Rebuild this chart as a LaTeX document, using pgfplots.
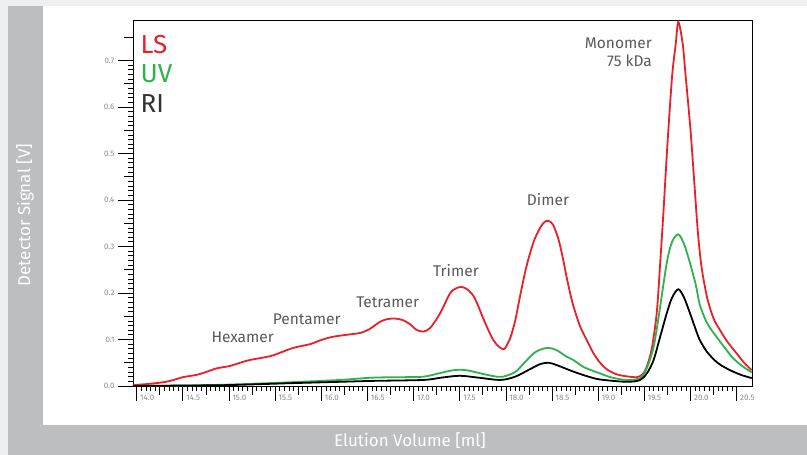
\documentclass[border=0pt]{standalone}
\usepackage{pgfplots}
\pgfplotsset{compat=1.18}
\usepackage{fontspec}
\setmainfont{Fira Sans}
\definecolor{lsred}{HTML}{E8202A}
\definecolor{uvgreen}{HTML}{2EB24B}
\definecolor{bandgray}{HTML}{BCBEC0}
\definecolor{pagegray}{HTML}{EFF0F2}
\definecolor{labelgray}{HTML}{5A5A5A}
\definecolor{tickgray}{HTML}{8C8C8C}
\begin{document}
\begin{tikzpicture}[x=1pt,y=1pt]
% panel and bands
\fill[pagegray] (0,0) rectangle (807,455);
\fill[bandgray] (8,0) rectangle (807,449);
\fill[white] (43,30) rectangle (807,449);
\node[white, rotate=90] at (25,240) {\fontsize{17}{19}\selectfont Detector Signal [V]};
\node[white] at (410,14) {\fontsize{17}{19}\selectfont Elution Volume [ml]};
\begin{axis}[
    at={(133pt,69pt)}, anchor=south west,
    scale only axis, width=619pt, height=366pt,
    xmin=13.96, xmax=20.666, ymin=0, ymax=0.787,
    axis line style={black, line width=0.9pt},
    xtick={14,14.5,...,20.5}, ytick={0,0.1,...,0.7},
    minor x tick num=9, minor y tick num=9,
    extra x ticks={14.25,14.75,...,20.25}, extra x tick labels={},
    extra y ticks={0.05,0.15,...,0.75}, extra y tick labels={},
    extra x tick style={major tick length=9pt},
    extra y tick style={major tick length=9pt},
    tick align=outside, xtick pos=bottom, ytick pos=left,
    major tick length=15pt, minor tick length=5pt,
    every tick/.style={black, line width=0.7pt},
    /pgf/number format/assume math mode=true,
    x tick label style={font=\fontsize{8}{9}\selectfont, text=tickgray, anchor=north west, xshift=0pt, yshift=9pt,
        /pgf/number format/.cd, fixed, fixed zerofill, precision=1},
    y tick label style={font=\fontsize{8}{9}\selectfont, text=tickgray,
        /pgf/number format/.cd, fixed, fixed zerofill, precision=1},
    clip=false,
]
\addplot[lsred, line width=1.8pt, smooth, tension=0.5] coordinates {
(13.96,0.002) (14.1,0.004) (14.285,0.008) (14.4,0.013) (14.5,0.019) (14.65,0.024) (14.75,0.030)
(14.867,0.038) (15.01,0.043) (15.12,0.050) (15.228,0.056) (15.444,0.064) (15.56,0.072) (15.697,0.082)
(15.878,0.090) (16.0,0.099) (16.13,0.106) (16.311,0.111) (16.42,0.114) (16.52,0.122) (16.636,0.138)
(16.72,0.144) (16.798,0.145) (16.88,0.142) (16.96,0.133) (17.03,0.121) (17.105,0.117) (17.18,0.125)
(17.286,0.156) (17.394,0.199) (17.46,0.210) (17.52,0.213) (17.58,0.208) (17.647,0.194) (17.70,0.172)
(17.755,0.145) (17.81,0.120) (17.863,0.099) (17.92,0.085) (17.972,0.079) (18.00,0.084) (18.05,0.105)
(18.10,0.140) (18.15,0.190) (18.22,0.255) (18.30,0.310) (18.37,0.340) (18.42,0.353) (18.46,0.355)
(18.51,0.347) (18.57,0.315) (18.62,0.272) (18.66,0.232) (18.72,0.180) (18.80,0.130) (18.875,0.099)
(18.95,0.070) (19.02,0.050) (19.1,0.035) (19.2,0.025) (19.3,0.021) (19.417,0.019) (19.48,0.025)
(19.525,0.041) (19.58,0.080) (19.634,0.157) (19.67,0.26) (19.706,0.372) (19.75,0.52) (19.80,0.665)
(19.84,0.736) (19.868,0.783) (19.915,0.736) (19.948,0.665) (20.0,0.55) (20.04,0.44) (20.08,0.33)
(20.12,0.255) (20.18,0.19) (20.25,0.145) (20.32,0.120) (20.4,0.095) (20.5,0.070) (20.58,0.050)
(20.663,0.034)
};
\addplot[uvgreen, line width=1.8pt, smooth, tension=0.5] coordinates {
(13.96,0.0) (14.5,0.001) (15.0,0.003) (15.66,0.008) (16.2,0.013) (16.56,0.018) (16.9,0.019)
(17.105,0.020) (17.25,0.026) (17.4,0.033) (17.5,0.035) (17.6,0.033) (17.75,0.026) (17.9,0.020)
(17.97,0.020) (18.1,0.030) (18.2,0.050) (18.3,0.070) (18.37,0.078) (18.46,0.082) (18.55,0.077)
(18.65,0.064) (18.73,0.056) (18.85,0.040) (19.02,0.027) (19.15,0.018) (19.31,0.013) (19.455,0.017)
(19.53,0.040) (19.60,0.084) (19.66,0.156) (19.742,0.264) (19.80,0.31) (19.868,0.326) (19.93,0.305)
(19.995,0.264) (20.06,0.215) (20.10,0.175) (20.18,0.135) (20.28,0.106) (20.38,0.08) (20.46,0.060)
(20.56,0.043) (20.663,0.029)
};
\addplot[black, line width=1.8pt, smooth, tension=0.5] coordinates {
(13.96,0.0) (14.5,0.001) (15.0,0.002) (15.66,0.006) (16.2,0.009) (16.56,0.011) (17.105,0.013)
(17.3,0.018) (17.5,0.022) (17.7,0.018) (17.94,0.013) (18.1,0.020) (18.25,0.035) (18.37,0.047)
(18.46,0.050) (18.55,0.045) (18.73,0.031) (18.88,0.021) (19.02,0.014) (19.31,0.009) (19.455,0.013)
(19.53,0.028) (19.60,0.056) (19.67,0.105) (19.742,0.156) (19.80,0.19) (19.868,0.208) (19.93,0.19)
(19.995,0.156) (20.05,0.125) (20.10,0.099) (20.18,0.073) (20.28,0.052) (20.37,0.040) (20.46,0.031)
(20.56,0.023) (20.663,0.017)
};
% peak names
\begin{scope}[every node/.style={text=labelgray, font=\fontsize{15.5}{18}\selectfont}]
\node at (axis cs:15.149,0.105) {Hexamer};
\node at (axis cs:15.842,0.143) {Pentamer};
\node at (axis cs:16.719,0.180) {Tetramer};
\node at (axis cs:17.459,0.249) {Trimer};
\node at (axis cs:18.456,0.400) {Dimer};
\node[anchor=east, align=right, inner sep=0pt] at (axis cs:19.583,0.717) {Monomer\\75 kDa};
\end{scope}
% legend
\begin{scope}[every node/.style={anchor=west, inner sep=0pt, font=\fontsize{26}{28}\selectfont}]
\node[text=lsred] at (rel axis cs:0.012,0.934) {LS};
\node[text=uvgreen] at (rel axis cs:0.012,0.853) {UV};
\node[text=black!80] at (rel axis cs:0.012,0.773) {RI};
\end{scope}
\end{axis}
\end{tikzpicture}
\end{document}
